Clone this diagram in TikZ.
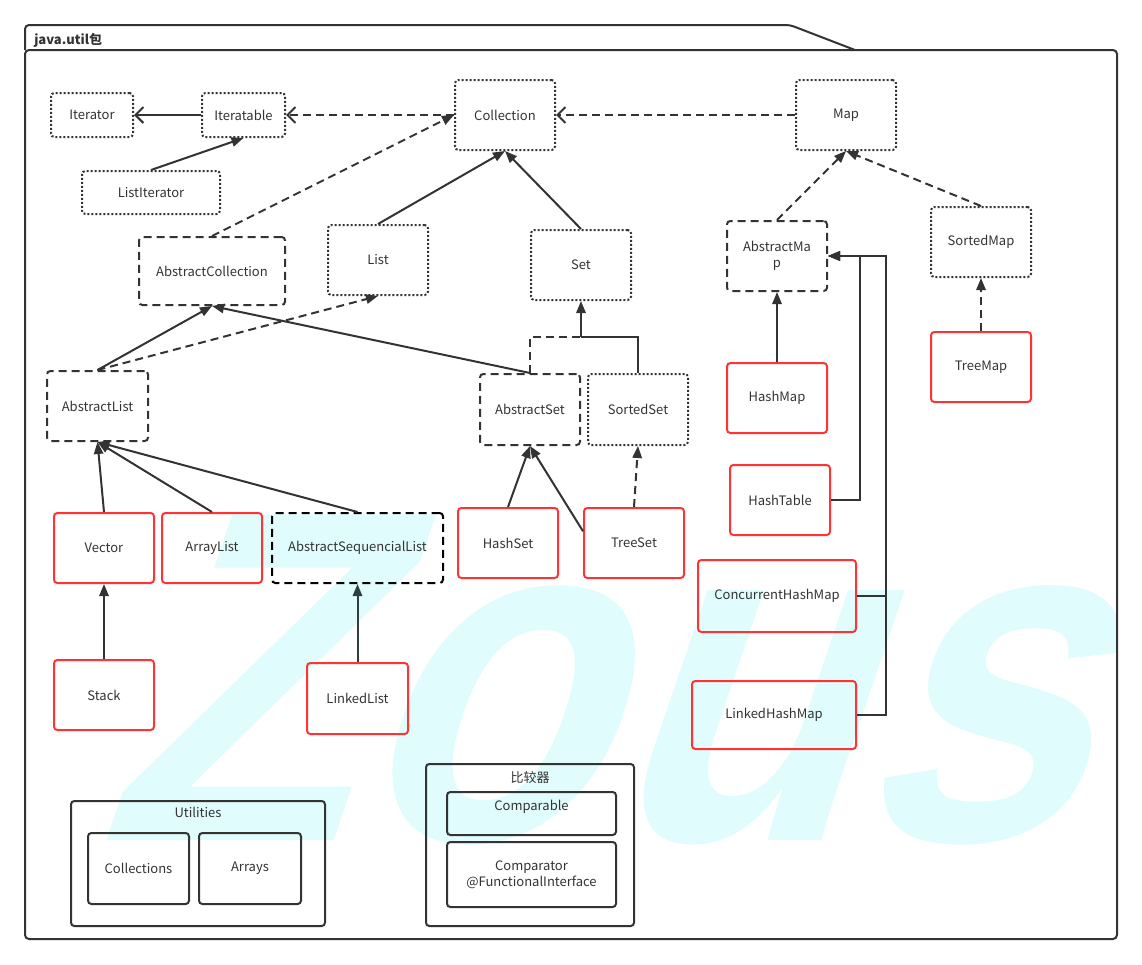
\documentclass[tikz,border=0pt]{standalone}
\usepackage{fontspec}
\setmainfont{Noto Sans CJK SC}
\newfontfamily\wmfont{Liberation Sans}
\usetikzlibrary{arrows.meta}

\definecolor{linegray}{HTML}{333333}
\definecolor{implred}{HTML}{FF3333}
\definecolor{wmcyan}{HTML}{E0FCFC}
\definecolor{slategray}{HTML}{2F3F3F}

\tikzset{
	cls/.style={draw=linegray, line width=1.5pt, rounded corners=2.5pt, inner sep=1pt, text=linegray, align=center,
		minimum width=75pt, minimum height=52.5pt, font=\fontsize{9.75}{12}\selectfont},
	iface/.style={cls, dash pattern=on 1.5pt off 1.5pt},
	abscls/.style={cls, dash pattern=on 6pt off 3.75pt},
	impl/.style={cls, draw=implred},
	lbl/.style={inner sep=0pt, text=linegray, font=\fontsize{9.75}{12}\selectfont},
	link/.style={draw=linegray, line width=1.5pt},
	inherit/.style={link, -{Triangle[length=9pt,width=7pt]}},
	realize/.style={inherit, dash pattern=on 6pt off 3.75pt},
	assoc/.style={link, -{Straight Barb[length=6pt,width=12pt]}},
	depend/.style={assoc, dash pattern=on 6pt off 3.75pt},
	frame/.style={draw=linegray, line width=1.5pt, rounded corners=3pt}
}

\begin{document}
\begin{tikzpicture}[x=0.75pt, y=-0.75pt]
	\useasboundingbox (0,0) rectangle (1142,964);
	
	%watermark
	\begin{scope}
		\clip (25,50) rectangle (1117,939);
		\begin{scope}[shift={(94,840)}, xslant=0.34, xscale=0.87]
			\node[anchor=base west, inner sep=0pt, text=wmcyan, font=\wmfont\bfseries\fontsize{355}{355}\selectfont, transform shape] (wm) at (0,0) {Zous};
		\end{scope}
	\end{scope}
	
	%package frame
	\draw[frame] (25,50) rectangle (1117,939);
	\draw[frame] (25,50) -- (25,25) -- (790,25) -- (855,50);
	\node[lbl, anchor=west, font=\fontsize{9.75}{12}\selectfont\bfseries] (ttl) at (34,40) {java.util包};
	
	%interfaces
	\node[iface, minimum width=61.5pt, minimum height=33pt] (iter) at (92,115) {Iterator};
	\node[iface, minimum width=62.25pt, minimum height=33pt] (itbl) at (243.5,115) {Iteratable};
	\node[iface, minimum width=103.5pt, minimum height=32.25pt] (lit) at (151,192.5) {ListIterator};
	\node[iface] (coll) at (505,115) {Collection};
	\node[iface] (map) at (846,115) {Map};
	\node[iface] (smap) at (981,242) {SortedMap};
	\node[iface] (list) at (378,260) {List};
	\node[iface] (set) at (581,265) {Set};
	\node[iface, minimum height=53.25pt] (sset) at (638,409.5) {SortedSet};
	
	%abstract classes
	\node[abscls] (amap) at (777,256) {AbstractMa\\p};
	\node[abscls, minimum width=109.5pt, minimum height=51pt] (acoll) at (212,271) {AbstractCollection};
	\node[abscls, minimum width=75.75pt] (alist) at (97.5,406) {AbstractList};
	\node[abscls, minimum height=53.25pt] (aset) at (530,409.5) {AbstractSet};
	\node[abscls, draw=black, minimum width=128.25pt] (asl) at (357.5,548) {AbstractSequencialList};
	
	%implementations
	\node[impl] (hset) at (508,543) {HashSet};
	\node[impl] (tset) at (634,543) {TreeSet};
	\node[impl] (hmap) at (777,398) {HashMap};
	\node[impl] (htab) at (780,500) {HashTable};
	\node[impl, minimum width=118.5pt, minimum height=54pt] (chmap) at (777,596) {ConcurrentHashMap};
	\node[impl, minimum width=123pt, minimum height=51pt] (lhmap) at (774,715) {LinkedHashMap};
	\node[impl] (tmap) at (981,367) {TreeMap};
	\node[impl] (vec) at (104,548) {Vector};
	\node[impl] (alst) at (212,548) {ArrayList};
	\node[impl] (stack) at (104,695) {Stack};
	\node[impl, minimum width=75.75pt, minimum height=53.25pt] (llist) at (357.5,698.5) {LinkedList};
	
	%utilities
	\node[cls, minimum width=190.5pt, minimum height=93.75pt] (util) at (198,863.5) {};
	\node[lbl] (utilt) at (198,812) {Utilities};
	\node[cls, minimum width=75.75pt, minimum height=53.25pt] (colls) at (138.5,868.5) {Collections};
	\node[cls, minimum width=76.5pt, minimum height=53.25pt] (arrs) at (250,868.5) {Arrays};
	
	%comparators
	\node[cls, minimum width=156pt, minimum height=121.5pt] (cmpg) at (530,845) {};
	\node[lbl] (cmpgt) at (530,778) {比较器};
	\node[cls, minimum width=126.75pt, minimum height=32.25pt] (cmpa) at (531.5,813.5) {};
	\node[lbl] (cmpat) at (531.5,807) {Comparable};
	\node[cls, minimum width=126.75pt, minimum height=48.75pt] (cmpr) at (531.5,874.5) {Comparator\\@FunctionalInterface};
	
	%iterator and collection edges
	\draw[assoc] (itbl) -- (iter);
	\draw[inherit] (lit.north) -- (itbl.south);
	\draw[depend] (coll) -- (itbl);
	\draw[depend] (map) -- (coll);
	\draw[realize] (acoll.north) -- (coll.west);
	\draw[inherit] (list.north) -- (coll.south);
	\draw[inherit] (set.north) -- (coll.south);
	
	%list edges
	\draw[inherit] (alist.north) -- (acoll.south);
	\draw[realize] (alist.north) -- (list.south);
	\draw[inherit] (vec.north) -- (alist.south);
	\draw[inherit] (alst.north) -- (alist.south);
	\draw[inherit] (asl.north) -- (alist.south);
	\draw[inherit] (stack) -- (vec);
	\draw[inherit, draw=slategray] (llist) -- (asl);
	
	%set edges
	\coordinate (setjoin) at (581,337);
	\draw[inherit] (aset.north) -- (acoll.south);
	\draw[link, dash pattern=on 6pt off 3.75pt] (aset.north) |- (setjoin);
	\draw[link] (sset.north) |- (setjoin);
	\draw[inherit] (setjoin) -- (set.south);
	\draw[inherit] (hset.north) -- (aset.south);
	\draw[inherit] (tset.167) -- (aset.south);
	\draw[realize] (tset.north) -- (sset.south);
	
	%map edges
	\coordinate (hbus) at (860,256);
	\coordinate (cbus) at (886,256);
	\draw[realize] (amap.north) -- (map.south);
	\draw[realize] (smap.north) -- (map.south);
	\draw[realize] (tmap) -- (smap);
	\draw[inherit] (hmap) -- (amap);
	\draw[inherit] (htab.east) -| (hbus) -- (amap.east);
	\draw[inherit] (chmap.east) -| (cbus) -- (amap.east);
	\draw[inherit] (lhmap.east) -| (cbus) -- (amap.east);
\end{tikzpicture}
\end{document}
